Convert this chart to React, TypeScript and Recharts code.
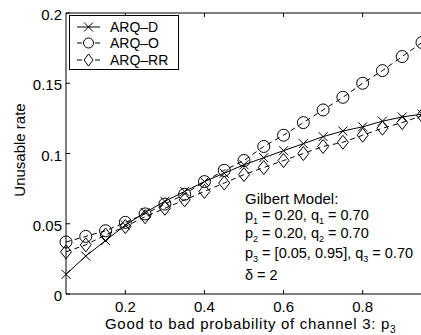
import React from 'react';
import { LineChart, Line, XAxis, YAxis } from 'recharts';

// p3 values on the x axis
const p3Values = [0.05, 0.1, 0.15, 0.2, 0.25, 0.3, 0.35, 0.4, 0.45, 0.5, 0.55, 0.6, 0.65, 0.7, 0.75, 0.8, 0.85, 0.9, 0.95];

// unusable rate for each scheme
const arqD = [0.014, 0.027, 0.038, 0.049, 0.058, 0.066, 0.073, 0.08, 0.086, 0.092, 0.097, 0.102, 0.107, 0.112, 0.116, 0.119, 0.123, 0.126, 0.128];
const arqO = [0.037, 0.041, 0.045, 0.051, 0.057, 0.064, 0.071, 0.08, 0.088, 0.095, 0.105, 0.113, 0.122, 0.131, 0.14, 0.15, 0.159, 0.169, 0.179];
const arqRR = [0.03, 0.035, 0.042, 0.048, 0.055, 0.061, 0.067, 0.073, 0.079, 0.085, 0.09, 0.095, 0.1, 0.105, 0.108, 0.113, 0.118, 0.122, 0.127];

const xTicks = [0.2, 0.4, 0.6, 0.8];
const yTicks = [0, 0.05, 0.1, 0.15, 0.2];

const FONT = '"Liberation Sans", Arial, Helvetica, sans-serif';
const INK = '#000';

const data = p3Values.map((p, i) => ({ p, d: arqD[i], o: arqO[i], rr: arqRR[i] }));

// markers (hollow, MATLAB style)
const CrossDot = (props: any) => {
  const { cx, cy } = props;
  if (cx == null || cy == null) return null;
  const s = 4.5;
  return (
    <path d={`M${cx - s},${cy - s}L${cx + s},${cy + s}M${cx - s},${cy + s}L${cx + s},${cy - s}`}
          stroke={INK} strokeWidth={1} fill="none" />
  );
};

const CircleDot = (props: any) => {
  const { cx, cy } = props;
  if (cx == null || cy == null) return null;
  return <circle cx={cx} cy={cy} r={6} stroke={INK} strokeWidth={1} fill="none" />;
};

const DiamondDot = (props: any) => {
  const { cx, cy } = props;
  if (cx == null || cy == null) return null;
  const w = 5.5, h = 7;
  return (
    <path d={`M${cx},${cy - h}L${cx + w},${cy}L${cx},${cy + h}L${cx - w},${cy}Z`}
          stroke={INK} strokeWidth={1} fill="none" />
  );
};

// ticks point inward, labels outside
const BottomTick = ({ x, y, payload }: any) => (
  <g>
    <line x1={x} y1={y} x2={x} y2={y - 4} stroke={INK} />
    <text x={x} y={y + 17.5} textAnchor="middle" fontSize={15} fontFamily={FONT} fill={INK}>
      {String(payload.value)}
    </text>
  </g>
);

const TopTick = ({ x, y }: any) => <line x1={x} y1={y} x2={x} y2={y + 4} stroke={INK} />;

const LeftTick = ({ x, y, payload }: any) => (
  <g>
    <line x1={x} y1={y} x2={x + 4} y2={y} stroke={INK} />
    <text x={x - 4} y={y + 7} textAnchor="end" fontSize={15} fontFamily={FONT} fill={INK}>
      {String(payload.value)}
    </text>
  </g>
);

const RightTick = ({ x, y }: any) => <line x1={x} y1={y} x2={x - 4} y2={y} stroke={INK} />;

function LegendBox() {
  const rows = [
    { label: 'ARQ–D', kind: 'x', y: 12 },
    { label: 'ARQ–O', kind: 'o', y: 28 },
    { label: 'ARQ–RR', kind: 'd', y: 45 },
  ];
  return (
    <g transform="translate(69,15)">
      <rect x={0.5} y={0.5} width={109} height={54} fill="#fff" stroke={INK} />
      {rows.map((r) => (
        <g key={r.label}>
          {r.kind === 'x' ? (
            <line x1={8} y1={r.y} x2={31} y2={r.y} stroke={INK} />
          ) : (
            <g>
              <line x1={8} y1={r.y} x2={13} y2={r.y} stroke={INK} />
              <line x1={26} y1={r.y} x2={31} y2={r.y} stroke={INK} />
            </g>
          )}
          {r.kind === 'x' && <CrossDot cx={19.5} cy={r.y} />}
          {r.kind === 'o' && <circle cx={19.5} cy={r.y} r={5} stroke={INK} fill="none" />}
          {r.kind === 'd' && (
            <path d={`M19.5,${r.y - 6}L24,${r.y}L19.5,${r.y + 6}L15,${r.y}Z`} stroke={INK} fill="none" />
          )}
          <text x={41} y={r.y + 5} fontSize={14} fontFamily={FONT} fill={INK}>{r.label}</text>
        </g>
      ))}
    </g>
  );
}

function Notes() {
  const x = 245;
  const sub = 9;
  return (
    <g fontFamily={FONT} fontSize={15} fill={INK}>
      <text x={x} y={204}>Gilbert Model:</text>
      <g fontSize={14.5}>
        <text x={x} y={220}>p<tspan dy={4} fontSize={sub}>1</tspan><tspan dy={-4}> = 0.20, q</tspan><tspan dy={4} fontSize={sub}>1</tspan><tspan dy={-4}> = 0.70</tspan></text>
        <text x={x} y={238}>p<tspan dy={4} fontSize={sub}>2</tspan><tspan dy={-4}> = 0.20, q</tspan><tspan dy={4} fontSize={sub}>2</tspan><tspan dy={-4}> = 0.70</tspan></text>
        <text x={x} y={258}>p<tspan dy={4} fontSize={sub}>3</tspan><tspan dy={-4}> = [0.05, 0.95], q</tspan><tspan dy={4} fontSize={sub}>3</tspan><tspan dy={-4}> = 0.70</tspan></text>
        <text x={x} y={280}>δ = 2</text>
      </g>
      {/* axis titles */}
      <text x={105} y={328.5} letterSpacing={0.7}>
        Good to bad probability of channel 3: p<tspan dy={4} fontSize={10}>3</tspan>
      </text>
      <text transform="translate(24.5,150) rotate(-90)" textAnchor="middle">Unusable rate</text>
    </g>
  );
}

export default function App() {
  return (
    <div style={{ position: 'absolute', left: 0, top: 0, width: 421, height: 335, overflow: 'hidden', background: '#fff' }}>
      <LineChart width={432} height={335} data={data} margin={{ top: 12, right: 9, bottom: 40, left: 65 }}>
        <XAxis dataKey="p" type="number" domain={[0.05, 0.95]} ticks={xTicks} height={1}
               tickSize={0} tickMargin={0} tick={<BottomTick />} axisLine={{ stroke: INK }} />
        <XAxis xAxisId="top" dataKey="p" type="number" orientation="top" domain={[0.05, 0.95]} ticks={xTicks}
               height={1} tickSize={0} tickMargin={0} tick={<TopTick />} axisLine={{ stroke: INK }} />
        <YAxis type="number" domain={[0, 0.2]} ticks={yTicks} width={1} tickSize={0} tickMargin={0}
               tick={<LeftTick />} axisLine={{ stroke: INK }} />
        <YAxis yAxisId="right" orientation="right" type="number" domain={[0, 0.2]} ticks={yTicks} width={1}
               tickSize={0} tickMargin={0} tick={<RightTick />} axisLine={{ stroke: INK }} />
        <Line dataKey="d" type="linear" stroke={INK} strokeWidth={1} dot={<CrossDot />}
              activeDot={false} isAnimationActive={false} />
        <Line dataKey="o" type="linear" stroke={INK} strokeWidth={1} strokeDasharray="5 4" dot={<CircleDot />}
              activeDot={false} isAnimationActive={false} />
        <Line dataKey="rr" type="linear" stroke={INK} strokeWidth={1} strokeDasharray="5 4" dot={<DiamondDot />}
              activeDot={false} isAnimationActive={false} />
      </LineChart>
      <svg width={421} height={335} style={{ position: 'absolute', left: 0, top: 0, pointerEvents: 'none' }}>
        <LegendBox />
        <Notes />
      </svg>
    </div>
  );
}
